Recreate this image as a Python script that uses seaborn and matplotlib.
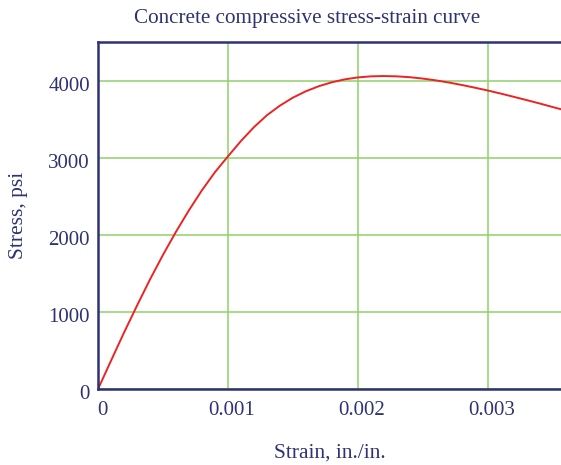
import seaborn as sns
import matplotlib.pyplot as plt
import matplotlib.transforms as mtransforms
import pandas as pd

# values
strain = [0.0, 0.0001, 0.0002, 0.0003, 0.0004, 0.0005, 0.0006, 0.0007, 0.0008,
          0.0009, 0.0010, 0.0011, 0.0012, 0.0013, 0.0014, 0.0015, 0.0016, 0.0017,
          0.0018, 0.0019, 0.0020, 0.0021, 0.0022, 0.0023, 0.0024, 0.0025, 0.0026,
          0.0027, 0.0028, 0.0029, 0.0030, 0.0031, 0.0032, 0.0033, 0.0034, 0.0035,
          0.0036]
stress = [0, 369, 734, 1085, 1425, 1745, 2045, 2325, 2585,
          2820, 3025, 3225, 3405, 3560, 3685, 3789, 3872, 3938,
          3989, 4027, 4052, 4066, 4070, 4066, 4055, 4037, 4014,
          3986, 3954, 3919, 3882, 3842, 3800, 3757, 3713, 3667,
          3622]
x_ticks = [0, 0.001, 0.002, 0.003]
x_labels = ['0', '0.001', '0.002', '0.003']
y_ticks = [0, 1000, 2000, 3000, 4000]

df = pd.DataFrame({'strain': strain, 'stress': stress})

navy = '#2e3272'
sns.set_style("white")
plt.rcParams['font.family'] = ['Liberation Serif', 'DejaVu Serif']

fig = plt.figure(figsize=(5.61, 4.65), dpi=100)
ax = fig.add_axes([0.175, 0.164, 0.825, 0.746])

ax.grid(True, color='#8fd16a', linewidth=1.1)
ax.set_axisbelow(True)
sns.lineplot(data=df, x='strain', y='stress', color='#ee2222', linewidth=1.4, ax=ax)
ax.set_xlabel('')
ax.set_ylabel('')

ax.set_xlim(0, 0.003565)
ax.set_ylim(0, 4515)
ax.set_xticks(x_ticks)
ax.set_xticklabels(x_labels)
ax.set_yticks(y_ticks)
ax.tick_params(axis='both', length=0, labelsize=15, labelcolor=navy)
ax.tick_params(axis='x', pad=9)
ax.tick_params(axis='y', pad=6)

# small nudges of the tick labels, as in the reference
dx = mtransforms.ScaledTranslation(4 / 100, 0, fig.dpi_scale_trans)
dy = mtransforms.ScaledTranslation(0, -3 / 100, fig.dpi_scale_trans)
for lab in ax.get_xticklabels():
    lab.set_transform(lab.get_transform() + dx)
for lab in ax.get_yticklabels():
    lab.set_transform(lab.get_transform() + dy)

for side in ['left', 'top', 'bottom']:
    ax.spines[side].set_color(navy)
    ax.spines[side].set_linewidth(1.8)
ax.spines['right'].set_visible(False)

fig.text(307 / 561, 1 - 18 / 465, "Concrete compressive stress-strain curve",
         fontsize=15.2, color=navy, ha='center', va='center')
fig.text(330 / 561, 1 - 453 / 465, "Strain, in./in.",
         fontsize=15.5, color=navy, ha='center', va='center')
fig.text(18 / 561, 1 - 215 / 465, "Stress, psi",
         fontsize=15.5, color=navy, ha='center', va='center', rotation=90)

plt.savefig('out.png', dpi=100)
plt.close()
